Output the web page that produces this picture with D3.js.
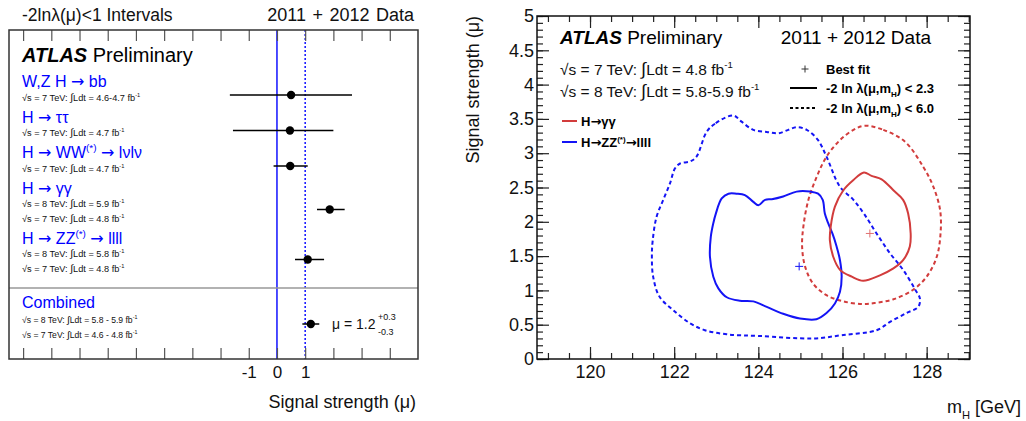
<!DOCTYPE html>
<html>
<head>
<meta charset="utf-8">
<script src="https://cdn.jsdelivr.net/npm/d3@7"></script>
<style>
  html, body { margin: 0; padding: 0; background: #fff; }
  svg { display: block; font-family: "Liberation Sans", Arial, Helvetica, sans-serif; }
</style>
</head>
<body>
<svg id="chart" width="1026" height="421"></svg>
<script>
// ---------- Left panel: signal strength per channel ----------
const channelLabels = [
  [{t: "W,Z H → bb"}],
  [{t: "H → ττ"}],
  [{t: "H → WW"}, {t: "(*)", sup: true}, {t: " → lνlν"}],
  [{t: "H → γγ"}],
  [{t: "H → ZZ"}, {t: "(*)", sup: true}, {t: " → llll"}]
];
const channelLumi = [
  [["7", "4.6-4.7"]],
  [["7", "4.7"]],
  [["7", "4.7"]],
  [["8", "5.9"], ["7", "4.8"]],
  [["8", "5.8"], ["7", "4.8"]]
];
const muBest = [0.50, 0.46, 0.47, 1.87, 1.09];
const muLow  = [-1.67, -1.56, -0.12, 1.42, 0.64];
const muHigh = [2.66, 2.00, 1.09, 2.40, 1.67];

const combinedLumi = [["8", "5.8 - 5.9"], ["7", "4.6 - 4.8"]];
const combinedMu = 1.2;
const combinedUp = 0.3;
const combinedDown = 0.3;

const muTickValues = d3.range(-9, 5);
const muTickLabels = [-1, 0, 1];

// ---------- Right panel: mu vs mH contours ----------
const massTicks = [120, 122, 124, 126, 128];
const massMinorTicks = d3.range(119, 129.01, 0.5);
const strengthTicks = [0, 0.5, 1, 1.5, 2, 2.5, 3, 3.5, 4, 4.5, 5];
const strengthMinorTicks = d3.range(0, 5.001, 0.1);

// H -> ZZ* -> 4l, -2 ln lambda < 6.0
const zzOuter = [
  [123.40, 3.55], [122.97, 3.43], [122.77, 3.31], [122.53, 2.95], [122.38, 2.88],
  [122.14, 2.85], [122.02, 2.78], [121.90, 2.56], [121.74, 2.32], [121.58, 2.07],
  [121.49, 1.73], [121.47, 1.49], [121.50, 1.20], [121.65, 0.91], [121.98, 0.71],
  [122.38, 0.52], [122.73, 0.42], [123.25, 0.36], [124.04, 0.335], [125.30, 0.30],
  [126.02, 0.35], [126.81, 0.42], [127.13, 0.54], [127.52, 0.67], [127.80, 0.76],
  [127.84, 0.88], [127.72, 1.02], [127.44, 1.30], [127.13, 1.54], [126.81, 1.83],
  [126.53, 2.10], [126.26, 2.32], [125.94, 2.51], [125.62, 2.95], [125.42, 3.19],
  [125.15, 3.34], [124.91, 3.38], [124.71, 3.34], [124.47, 3.29], [124.20, 3.31],
  [123.88, 3.34], [123.60, 3.46]
];
// H -> ZZ* -> 4l, -2 ln lambda < 2.3
const zzInner = [
  [123.48, 2.41], [123.29, 2.41], [123.13, 2.34], [122.99, 2.12], [122.93, 1.98],
  [122.87, 1.78], [122.85, 1.49], [122.93, 1.20], [123.05, 1.03], [123.25, 0.90],
  [123.56, 0.85], [123.88, 0.84], [124.20, 0.76], [124.59, 0.66], [124.99, 0.59],
  [125.38, 0.58], [125.62, 0.67], [125.82, 0.81], [125.94, 0.98], [125.98, 1.20],
  [125.94, 1.44], [125.86, 1.64], [125.76, 1.83], [125.66, 1.98], [125.58, 2.12],
  [125.53, 2.32], [125.42, 2.41], [125.23, 2.44], [124.91, 2.44], [124.59, 2.37],
  [124.32, 2.33], [124.16, 2.32], [124.00, 2.24], [123.88, 2.29], [123.68, 2.39]
];
// H -> gamma gamma, -2 ln lambda < 6.0
const ggOuter = [
  [126.53, 3.40], [126.97, 3.34], [127.48, 3.17], [127.92, 2.80], [128.16, 2.51],
  [128.32, 2.17], [128.33, 1.83], [128.24, 1.49], [128.00, 1.20], [127.68, 1.01],
  [127.21, 0.87], [126.81, 0.82], [126.49, 0.80], [126.02, 0.84], [125.62, 0.93],
  [125.30, 1.10], [125.11, 1.35], [125.04, 1.64], [125.07, 1.93], [125.19, 2.32],
  [125.39, 2.66], [125.62, 2.95], [125.94, 3.19], [126.26, 3.34]
];
// H -> gamma gamma, -2 ln lambda < 2.3
const ggInner = [
  [126.51, 2.72], [126.69, 2.67], [126.93, 2.62], [127.21, 2.46], [127.44, 2.32],
  [127.56, 2.12], [127.62, 1.83], [127.60, 1.64], [127.44, 1.44], [127.21, 1.32],
  [126.89, 1.22], [126.49, 1.14], [126.22, 1.20], [125.94, 1.30], [125.78, 1.49],
  [125.70, 1.73], [125.72, 1.93], [125.82, 2.22], [126.02, 2.46], [126.26, 2.61]
];
const zzBestFit = [124.97, 1.35];
const ggBestFit = [126.65, 1.83];

const BLUE = "#1414f5";
const RED = "#d23c3c";
const TEXT_BLUE = "#0000ff";

const svg = d3.select("#chart");

// Writes a sequence of text parts, with superscripts, subscripts and
// enlarged glyphs, into a <text>. Arrows use a font with a wide arrow glyph.
function richText(textSel, parts, fs) {
  let shift = 0;
  parts.forEach(p => {
    let target = 0;
    if (p.sup) target = -fs * 0.42;
    if (p.sub) target = fs * 0.32;
    const pieces = p.t.split(/(→)/).filter(s => s.length);
    pieces.forEach((s, k) => {
      const ts = textSel.append("tspan");
      if (k === 0) { ts.attr("dy", target - shift); shift = target; }
      let size = null;
      if (p.sup || p.sub) size = fs * 0.62;
      if (p.big) size = fs * p.big;
      if (size) ts.attr("font-size", size);
      if (s === "→") ts.attr("font-family", "DejaVu Sans, sans-serif");
      ts.text(s);
    });
  });
  return textSel;
}

function lumiLine(g, x, y, energy, lumi, fs, gap) {
  const t = g.append("text").attr("x", x).attr("y", y).attr("font-size", fs).attr("fill", "#111");
  richText(t, [
    {t: "√s = " + energy + " TeV:" + gap},
    {t: "∫", big: 1.15},
    {t: "Ldt = " + lumi + " fb"},
    {t: "-1", sup: true}
  ], fs);
  return t;
}

// ================= LEFT PANEL =================
const L = {left: 9, right: 418, top: 30, bottom: 359, sep: 288};
const xL = d3.scaleLinear().domain([-9.5, 5]).range([L.left, L.right]);
const gL = svg.append("g");

// titles above the frame
gL.append("text").attr("x", 22).attr("y", 21).attr("font-size", 17.5).attr("fill", "#111")
  .text("-2lnλ(μ)<1 Intervals");
gL.append("text").attr("x", 414).attr("y", 21).attr("font-size", 18).attr("fill", "#111")
  .attr("text-anchor", "end").attr("word-spacing", 1.5).text("2011 + 2012 Data");

// reference lines at mu = 0 and mu = 1
gL.append("line").attr("x1", xL(0)).attr("x2", xL(0)).attr("y1", L.top).attr("y2", L.bottom)
  .attr("stroke", TEXT_BLUE).attr("stroke-width", 1.4);
gL.append("line").attr("x1", xL(1)).attr("x2", xL(1)).attr("y1", L.top).attr("y2", L.bottom)
  .attr("stroke", TEXT_BLUE).attr("stroke-width", 1.4).attr("stroke-dasharray", "2,2");

// separator between channels and the combination
gL.append("line").attr("x1", L.left).attr("x2", L.right).attr("y1", L.sep).attr("y2", L.sep)
  .attr("stroke", "#999").attr("stroke-width", 1.5);

// axes (ticks inward, labels only on a few values)
const axLb = d3.axisBottom(xL).tickValues(muTickValues).tickSize(-11).tickPadding(7)
  .tickFormat(d => muTickLabels.includes(d) ? String(d) : "");
const gAxLb = gL.append("g").attr("transform", `translate(0,${L.bottom})`).call(axLb);
gAxLb.select(".domain").remove();
gAxLb.selectAll("line").attr("stroke", "#555").attr("stroke-width", 1.2);
gAxLb.selectAll("text").attr("font-size", 17).attr("fill", "#111")
  .attr("font-family", "Liberation Sans, Arial, sans-serif");

const axLt = d3.axisTop(xL).tickValues(muTickValues).tickSize(-11).tickFormat("");
const gAxLt = gL.append("g").attr("transform", `translate(0,${L.top})`).call(axLt);
gAxLt.select(".domain").remove();
gAxLt.selectAll("line").attr("stroke", "#555").attr("stroke-width", 1.2);

gL.append("rect").attr("x", L.left).attr("y", L.top)
  .attr("width", L.right - L.left).attr("height", L.bottom - L.top)
  .attr("fill", "none").attr("stroke", "#333").attr("stroke-width", 1.5);

gL.append("text").attr("x", 416).attr("y", 408).attr("font-size", 18).attr("fill", "#111")
  .attr("text-anchor", "end").text("Signal strength (μ)");

// ATLAS label
const atl = gL.append("text").attr("x", 22).attr("y", 62).attr("font-size", 20).attr("fill", "#000");
atl.append("tspan").attr("font-weight", "bold").attr("font-style", "italic").text("ATLAS");
atl.append("tspan").text(" Preliminary");

// channel rows
let rowY = 87;
const rows = [];
channelLabels.forEach((lab, i) => {
  const nSub = channelLumi[i].length;
  rows.push({title: rowY, marker: rowY + (nSub === 1 ? 8 : 16), subs: channelLumi[i].map((_, k) => rowY + 13.5 + 14.5 * k)});
  rowY += 21 + 14.5 * nSub;
});

rows.forEach((r, i) => {
  const t = gL.append("text").attr("x", 22).attr("y", r.title).attr("font-size", 16).attr("fill", TEXT_BLUE);
  richText(t, channelLabels[i], 16);
  channelLumi[i].forEach((d, k) => lumiLine(gL, 22, r.subs[k], d[0], d[1], 9.2, " "));
  gL.append("line").attr("x1", xL(muLow[i])).attr("x2", xL(muHigh[i]))
    .attr("y1", r.marker).attr("y2", r.marker).attr("stroke", "#000").attr("stroke-width", 1.5);
  gL.append("circle").attr("cx", xL(muBest[i])).attr("cy", r.marker).attr("r", 4.2).attr("fill", "#000");
});

// combined
gL.append("text").attr("x", 22).attr("y", 308).attr("font-size", 16).attr("fill", TEXT_BLUE).text("Combined");
combinedLumi.forEach((d, k) => lumiLine(gL, 22, 323 + 14.5 * k, d[0], d[1], 8.6, "  "));
const yC = 324;
gL.append("line").attr("x1", xL(combinedMu - combinedDown)).attr("x2", xL(combinedMu + combinedUp))
  .attr("y1", yC).attr("y2", yC).attr("stroke", "#000").attr("stroke-width", 1.5);
gL.append("circle").attr("cx", xL(combinedMu)).attr("cy", yC).attr("r", 4.2).attr("fill", "#000");
gL.append("text").attr("x", 332).attr("y", 329).attr("font-size", 14).attr("fill", "#111")
  .text("μ = " + combinedMu.toFixed(1));
gL.append("text").attr("x", 378).attr("y", 320).attr("font-size", 9).attr("fill", "#111")
  .text("+" + combinedUp.toFixed(1));
gL.append("text").attr("x", 378).attr("y", 335).attr("font-size", 9).attr("fill", "#111")
  .text("-" + combinedDown.toFixed(1));

// ================= RIGHT PANEL =================
const R = {left: 537, right: 970, top: 16, bottom: 359};
const xR = d3.scaleLinear().domain([118.74, 129.03]).range([R.left, R.right]);
const yR = d3.scaleLinear().domain([0, 5]).range([R.bottom, R.top]);
const gR = svg.append("g");

function styleAxis(g) {
  g.select(".domain").remove();
  g.selectAll("line").attr("stroke", "#222").attr("stroke-width", 1.2);
  g.selectAll("text").attr("font-size", 18).attr("fill", "#111")
    .attr("font-family", "Liberation Sans, Arial, sans-serif");
}

// minor ticks
[[R.bottom, d3.axisBottom], [R.top, d3.axisTop]].forEach(([pos, fn]) => {
  const g = gR.append("g").attr("transform", `translate(0,${pos})`)
    .call(fn(xR).tickValues(massMinorTicks).tickSize(-6).tickFormat(""));
  styleAxis(g);
});
[[R.left, d3.axisLeft], [R.right, d3.axisRight]].forEach(([pos, fn]) => {
  const g = gR.append("g").attr("transform", `translate(${pos},0)`)
    .call(fn(yR).tickValues(strengthMinorTicks).tickSize(-6).tickFormat(""));
  styleAxis(g);
});

// major ticks with labels
const gXb = gR.append("g").attr("transform", `translate(0,${R.bottom})`)
  .call(d3.axisBottom(xR).tickValues(massTicks).tickSize(-12).tickPadding(6).tickFormat(d3.format("d")));
styleAxis(gXb);
const gXt = gR.append("g").attr("transform", `translate(0,${R.top})`)
  .call(d3.axisTop(xR).tickValues(massTicks).tickSize(-12).tickFormat(""));
styleAxis(gXt);
const gYl = gR.append("g").attr("transform", `translate(${R.left},0)`)
  .call(d3.axisLeft(yR).tickValues(strengthTicks).tickSize(-12).tickPadding(3).tickFormat(d => String(d)));
styleAxis(gYl);
const gYr = gR.append("g").attr("transform", `translate(${R.right},0)`)
  .call(d3.axisRight(yR).tickValues(strengthTicks).tickSize(-12).tickFormat(""));
styleAxis(gYr);

// contours
const contourLine = d3.line().x(d => xR(d[0])).y(d => yR(d[1])).curve(d3.curveCatmullRomClosed.alpha(0.5));
const contours = [
  {pts: zzOuter, color: BLUE, dash: "4,3"},
  {pts: ggOuter, color: RED, dash: "4,3"},
  {pts: zzInner, color: BLUE, dash: null},
  {pts: ggInner, color: RED, dash: null}
];
contours.forEach(c => {
  gR.append("path").attr("d", contourLine(c.pts)).attr("fill", "none")
    .attr("stroke", c.color).attr("stroke-width", 2)
    .attr("stroke-dasharray", c.dash);
});

function cross(g, x, y, size, color) {
  g.append("line").attr("x1", x - size).attr("x2", x + size).attr("y1", y).attr("y2", y)
    .attr("stroke", color).attr("stroke-width", 1);
  g.append("line").attr("x1", x).attr("x2", x).attr("y1", y - size).attr("y2", y + size)
    .attr("stroke", color).attr("stroke-width", 1);
}
cross(gR, xR(zzBestFit[0]), yR(zzBestFit[1]), 4, BLUE);
cross(gR, xR(ggBestFit[0]), yR(ggBestFit[1]), 4, "#e07070");

// frame
gR.append("rect").attr("x", R.left).attr("y", R.top)
  .attr("width", R.right - R.left).attr("height", R.bottom - R.top)
  .attr("fill", "none").attr("stroke", "#111").attr("stroke-width", 1.5);

// axis titles
gR.append("text").attr("transform", `translate(479,${R.top}) rotate(-90)`)
  .attr("text-anchor", "end").attr("font-size", 18).attr("fill", "#111")
  .text("Signal strength (μ)");
const xt = gR.append("text").attr("x", 1021).attr("y", 413).attr("text-anchor", "end")
  .attr("font-size", 18).attr("fill", "#111");
richText(xt, [{t: "m"}, {t: "H", sub: true}, {t: " [GeV]"}], 18);

// header texts
const atr = gR.append("text").attr("x", 560).attr("y", 44).attr("font-size", 19).attr("fill", "#000");
atr.append("tspan").attr("font-weight", "bold").attr("font-style", "italic").text("ATLAS");
atr.append("tspan").text(" Preliminary");
gR.append("text").attr("x", 931).attr("y", 44).attr("text-anchor", "end").attr("font-size", 19)
  .attr("fill", "#000").text("2011 + 2012 Data");
lumiLine(gR, 560, 75, "7", "4.8", 15.5, " ");
lumiLine(gR, 560, 97, "8", "5.8-5.9", 15.5, " ");

// legend: best fit and contour levels
const legR = gR.append("g").attr("font-size", 13).attr("font-weight", "bold").attr("fill", "#000");
cross(legR, 805, 69, 3.5, "#333");
legR.append("text").attr("x", 826).attr("y", 74).text("Best fit");
legR.append("line").attr("x1", 790).attr("x2", 817).attr("y1", 88).attr("y2", 88)
  .attr("stroke", "#000").attr("stroke-width", 2);
legR.append("line").attr("x1", 790).attr("x2", 817).attr("y1", 108).attr("y2", 108)
  .attr("stroke", "#000").attr("stroke-width", 2).attr("stroke-dasharray", "3,2.5");
["2.3", "6.0"].forEach((lvl, k) => {
  const t = legR.append("text").attr("x", 826).attr("y", 93 + 20 * k);
  richText(t, [{t: "-2 ln λ(μ,m"}, {t: "H", sub: true}, {t: ") < " + lvl}], 13);
});

// legend: channels
const legC = gR.append("g").attr("font-size", 13).attr("font-weight", "bold").attr("fill", "#000");
[{color: RED, parts: [{t: "H→γγ"}], y: 121},
 {color: BLUE, parts: [{t: "H→ZZ"}, {t: "(*)", sup: true}, {t: "→llll"}], y: 142}].forEach(e => {
  legC.append("line").attr("x1", 562).attr("x2", 577).attr("y1", e.y).attr("y2", e.y)
    .attr("stroke", e.color).attr("stroke-width", 2);
  const t = legC.append("text").attr("x", 581).attr("y", e.y + 5);
  richText(t, e.parts, 13);
});
</script>
</body>
</html>
